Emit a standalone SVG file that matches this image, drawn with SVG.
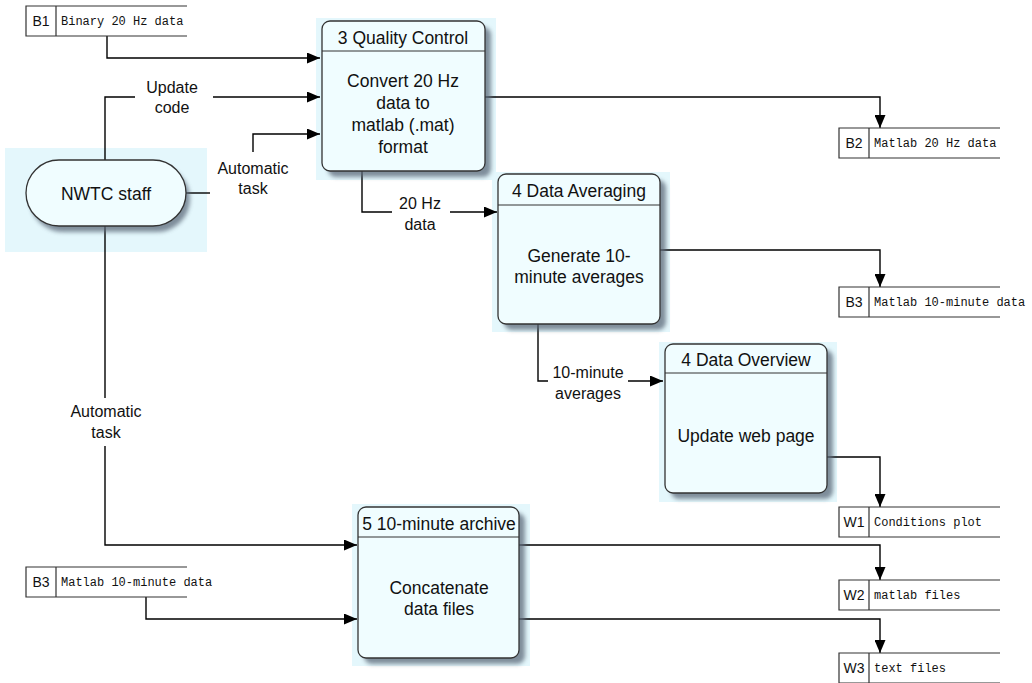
<svg xmlns="http://www.w3.org/2000/svg" width="1032" height="683" viewBox="0 0 1032 683">
<style>
.hl{fill:#e4f7fc}
.box{fill:#f0fdff;stroke:#333;stroke-width:1.3}
.sh{fill:#5d6b7a;opacity:0.75;filter:url(#blur)}
.div{stroke:#333;stroke-width:1}
.t{font-family:"Liberation Sans",Arial,sans-serif;font-size:16px;fill:#111;text-anchor:middle}
.b{font-family:"Liberation Sans",Arial,sans-serif;font-size:17.5px;fill:#111;text-anchor:middle}
.m{font-family:"Liberation Mono","Courier New",monospace;font-size:12px;fill:#111}
.id{font-family:"Liberation Sans",Arial,sans-serif;font-size:14px;fill:#111;text-anchor:middle}
.ds{fill:none;stroke:#333;stroke-width:1.2}
.c{fill:none;stroke:#000;stroke-width:1.4}
.c2{fill:none;stroke:#000;stroke-width:1.4;marker-end:url(#ah)}
</style>
<defs>
<filter id="blur" x="-10%" y="-10%" width="120%" height="120%"><feGaussianBlur stdDeviation="2"/></filter>
<marker id="ah" viewBox="0 0 13 11" refX="13" refY="5.5" markerWidth="13" markerHeight="11" markerUnits="userSpaceOnUse" orient="auto"><path d="M0,0 L13,5.5 L0,11 Z" fill="#000"/></marker>
</defs>
<rect width="1032" height="683" fill="#fff"/>

<g id="highlights">
<rect class="hl" x="5" y="148" width="202" height="104"/>
<rect class="hl" x="316" y="18" width="180" height="162"/>
<rect class="hl" x="492" y="172" width="178" height="160"/>
<rect class="hl" x="659" y="342" width="178" height="160"/>
<rect class="hl" x="352" y="504" width="178" height="162"/>
</g>

<g id="connectors">
<polyline class="c2" points="107,36 107,58 320,58"/>
<polyline class="c" points="105,160 105,97 135,97"/>
<polyline class="c2" points="213,97 320,97"/>
<polyline class="c2" points="253,152 253,134 320,134"/>
<polyline class="c" points="186,193 210,193"/>
<polyline class="c" points="105,226 105,398"/>
<polyline class="c2" points="105,446 105,545 357,545"/>
<polyline class="c2" points="485,97 880,97 880,128"/>
<polyline class="c" points="362,171 362,212 392,212"/>
<polyline class="c2" points="450,212 497,212"/>
<polyline class="c2" points="660,250 880,250 880,287"/>
<polyline class="c" points="538,324 538,381 548,381"/>
<polyline class="c2" points="628,381 663,381"/>
<polyline class="c2" points="827,457 880,457 880,507"/>
<polyline class="c2" points="519,545 880,545 880,580"/>
<polyline class="c2" points="146,597 146,619 357,619"/>
<polyline class="c2" points="519,619 880,619 880,653"/>
</g>

<g id="labels">
<text class="t" x="172" y="93">Update</text>
<text class="t" x="172" y="113">code</text>
<text class="t" x="253" y="174">Automatic</text>
<text class="t" x="253" y="194">task</text>
<text class="t" x="106" y="417">Automatic</text>
<text class="t" x="106" y="438">task</text>
<text class="t" x="420" y="209">20 Hz</text>
<text class="t" x="420" y="230">data</text>
<text class="t" x="588" y="378">10-minute</text>
<text class="t" x="588" y="399">averages</text>
</g>

<g id="nwtc">
<rect class="sh" x="30" y="166" width="160" height="66" rx="33"/>
<rect class="box" x="26" y="160" width="160" height="66" rx="33"/>
<text class="b" x="106" y="200">NWTC staff</text>
</g>

<g id="p3">
<rect class="sh" x="328" y="27" width="163" height="150" rx="8"/>
<rect class="box" x="322" y="21" width="163" height="150" rx="8"/>
<line class="div" x1="322" y1="51" x2="485" y2="51"/>
<text class="b" x="403" y="44">3 Quality Control</text>
<text class="b" x="403" y="87">Convert 20 Hz</text>
<text class="b" x="403" y="109">data to</text>
<text class="b" x="403" y="131">matlab (.mat)</text>
<text class="b" x="403" y="153">format</text>
</g>

<g id="p4a">
<rect class="sh" x="504" y="180" width="162" height="150" rx="8"/>
<rect class="box" x="498" y="174" width="162" height="150" rx="8"/>
<line class="div" x1="498" y1="205" x2="660" y2="205"/>
<text class="b" x="579" y="197">4 Data Averaging</text>
<text class="b" x="579" y="262">Generate 10-</text>
<text class="b" x="579" y="283">minute averages</text>
</g>

<g id="p4o">
<rect class="sh" x="671" y="350" width="162" height="149" rx="8"/>
<rect class="box" x="665" y="344" width="162" height="149" rx="8"/>
<line class="div" x1="665" y1="373" x2="827" y2="373"/>
<text class="b" x="746" y="366">4 Data Overview</text>
<text class="b" x="746" y="442">Update web page</text>
</g>

<g id="p5">
<rect class="sh" x="364" y="513" width="161" height="151" rx="8"/>
<rect class="box" x="358" y="507" width="161" height="151" rx="8"/>
<line class="div" x1="358" y1="537" x2="519" y2="537"/>
<text class="b" x="439" y="530">5 10-minute archive</text>
<text class="b" x="439" y="594">Concatenate</text>
<text class="b" x="439" y="615">data files</text>
</g>

<g id="b1">
<path class="ds" d="M187,6 H26 V36 H187 M56,6 V36"/>
<text class="id" x="41" y="26">B1</text>
<text class="m" x="61" y="25">Binary 20 Hz data</text>
</g>
<g id="b2">
<path class="ds" d="M1000,128 H839 V158 H1000 M869,128 V158"/>
<text class="id" x="854" y="148">B2</text>
<text class="m" x="874" y="147">Matlab 20 Hz data</text>
</g>
<g id="b3r">
<path class="ds" d="M1000,287 H839 V317 H1000 M869,287 V317"/>
<text class="id" x="854" y="307">B3</text>
<text class="m" x="874" y="306">Matlab 10-minute data</text>
</g>
<g id="w1">
<path class="ds" d="M1000,507 H839 V537 H1000 M869,507 V537"/>
<text class="id" x="854" y="527">W1</text>
<text class="m" x="874" y="526">Conditions plot</text>
</g>
<g id="w2">
<path class="ds" d="M1000,580 H839 V610 H1000 M869,580 V610"/>
<text class="id" x="854" y="600">W2</text>
<text class="m" x="874" y="599">matlab files</text>
</g>
<g id="w3">
<path class="ds" d="M1000,653 H839 V683 H1000 M869,653 V683"/>
<text class="id" x="854" y="673">W3</text>
<text class="m" x="874" y="672">text files</text>
</g>
<g id="b3l">
<path class="ds" d="M187,567 H26 V597 H187 M56,567 V597"/>
<text class="id" x="41" y="587">B3</text>
<text class="m" x="61" y="586">Matlab 10-minute data</text>
</g>
</svg>
